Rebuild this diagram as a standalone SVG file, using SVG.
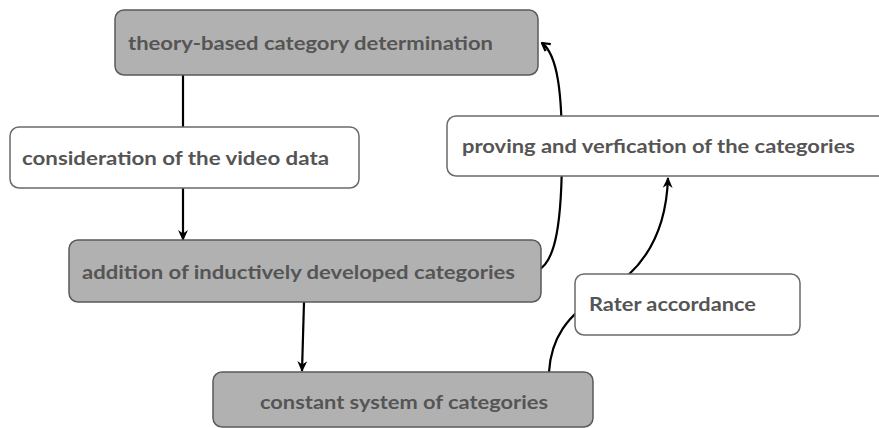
<svg xmlns="http://www.w3.org/2000/svg" width="879" height="428" viewBox="0 0 879 428">
<style>
.g{fill:#b1b1b1;stroke:#5a5a5a;stroke-width:1.5}
.w{fill:#ffffff;stroke:#6a6a6a;stroke-width:1.5}
.t{font-family:Lato,"Open Sans","Liberation Sans",sans-serif;font-weight:bold;font-size:19px;fill:#555555}
.c{fill:none;stroke:#000;stroke-width:2.2}
</style>
<defs>
<marker id="ah" viewBox="0 0 10 10" refX="9" refY="5" markerWidth="11" markerHeight="11" orient="auto" markerUnits="userSpaceOnUse">
<path d="M0,0.5 L10,5 L0,9.5 L3,5 Z" fill="#000"/>
</marker>
<marker id="ao" viewBox="0 0 10 10" refX="9" refY="5" markerWidth="11" markerHeight="11" orient="auto" markerUnits="userSpaceOnUse">
<path d="M2,1 L9,5 L2,9" fill="none" stroke="#000" stroke-width="2"/>
</marker>
</defs>
<rect width="879" height="428" fill="#fff"/>
<g id="connectors">
<path class="c" d="M183,75 L183,127"/>
<path class="c" d="M183,188 L183,240" marker-end="url(#ah)"/>
<path class="c" d="M304,302 L302,371" marker-end="url(#ah)"/>
<path class="c" d="M538,270 C556,262 562,220 562,150 C562,95 558,55 542,43" marker-end="url(#ao)"/>
<path class="c" d="M549,372 C551,340 565,315 605,292 C640,272 666,238 668,178" marker-end="url(#ah)"/>
</g>
<g id="n1">
<rect class="g" x="115" y="10" width="423" height="65" rx="9"/>
<text class="t" x="128" y="50" textLength="365" lengthAdjust="spacingAndGlyphs">theory-based category determination</text>
</g>
<g id="n2">
<rect class="w" x="10" y="127" width="349" height="61" rx="9"/>
<text class="t" x="22" y="165" textLength="307" lengthAdjust="spacingAndGlyphs">consideration of the video data</text>
</g>
<g id="n3">
<rect class="g" x="69" y="240" width="472" height="62" rx="9"/>
<text class="t" x="82" y="279" textLength="433" lengthAdjust="spacingAndGlyphs">addition of inductively developed categories</text>
</g>
<g id="n4">
<rect class="g" x="213" y="372" width="380" height="55" rx="9"/>
<text class="t" x="260" y="409" textLength="288" lengthAdjust="spacingAndGlyphs">constant system of categories</text>
</g>
<g id="n5">
<rect class="w" x="575" y="274" width="225" height="61" rx="9"/>
<text class="t" x="589" y="311" textLength="167" lengthAdjust="spacingAndGlyphs">Rater accordance</text>
</g>
<g id="n6">
<rect class="w" x="447" y="116" width="445" height="60" rx="9"/>
<text class="t" x="462" y="153" textLength="393" lengthAdjust="spacingAndGlyphs">proving and verfication of the categories</text>
</g>
</svg>
